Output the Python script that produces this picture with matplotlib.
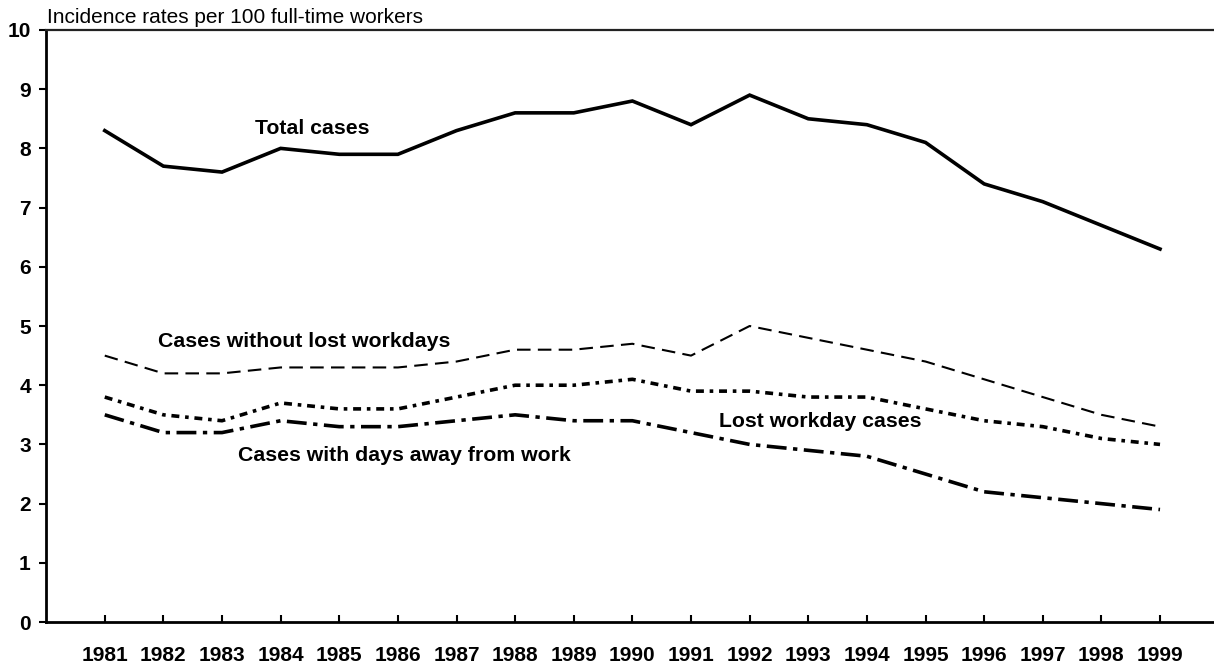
import matplotlib
matplotlib.use("Agg")
import matplotlib.pyplot as plt

years = list(range(1981, 2000))
total_cases = [8.3, 7.7, 7.6, 8.0, 7.9, 7.9, 8.3, 8.6, 8.6, 8.8, 8.4, 8.9, 8.5, 8.4, 8.1, 7.4, 7.1, 6.7, 6.3]
without_lost = [4.5, 4.2, 4.2, 4.3, 4.3, 4.3, 4.4, 4.6, 4.6, 4.7, 4.5, 5.0, 4.8, 4.6, 4.4, 4.1, 3.8, 3.5, 3.3]
lost_workday = [3.8, 3.5, 3.4, 3.7, 3.6, 3.6, 3.8, 4.0, 4.0, 4.1, 3.9, 3.9, 3.8, 3.8, 3.6, 3.4, 3.3, 3.1, 3.0]
days_away = [3.5, 3.2, 3.2, 3.4, 3.3, 3.3, 3.4, 3.5, 3.4, 3.4, 3.2, 3.0, 2.9, 2.8, 2.5, 2.2, 2.1, 2.0, 1.9]
y_ticks = list(range(0, 11))

plt.rcParams['font.family'] = ['Liberation Sans', 'DejaVu Sans']

fig = plt.figure(figsize=(12.14, 6.66), dpi=100)
ax = fig.add_axes([0.038, 0.066, 0.961, 0.889])

ax.plot(years, total_cases, color='black', lw=2.6, solid_joinstyle='miter')
l2, = ax.plot(years, without_lost, color='black', lw=1.5)
l2.set_dashes([6.5, 3.5])
l3, = ax.plot(years, lost_workday, color='black', lw=2.6)
l3.set_dashes([2.2, 1.6, 1.0, 1.6])
l4, = ax.plot(years, days_away, color='black', lw=2.6)
l4.set_dashes([5.5, 1.8, 1.2, 1.8])

ax.set_xlim(1980, 1999.9)
ax.set_ylim(0, 10)
ax.set_yticks(y_ticks)
ax.set_xticks(years)
ax.set_xticklabels([str(y) for y in years], fontsize=15, fontweight='bold')
ax.set_yticklabels([str(v) for v in y_ticks], fontsize=15, fontweight='bold')
ax.tick_params(axis='x', direction='in', length=5, width=1.5, pad=17)
ax.tick_params(axis='y', direction='out', length=5, width=1.5, pad=6)

for s in ['left', 'bottom']:
    ax.spines[s].set_linewidth(2)
ax.spines['right'].set_visible(False)
ax.spines['top'].set_linewidth(1.6)
ax.spines['top'].set_color('#222222')

ax.text(1980.02, 10.05, 'Incidence rates per 100 full-time workers', fontsize=15,
        ha='left', va='bottom')

ax.text(1983.57, 8.34, 'Total cases', fontsize=15.3, fontweight='bold', ha='left', va='center')
ax.text(1981.91, 4.73, 'Cases without lost workdays', fontsize=15.3, fontweight='bold', ha='left', va='center')
ax.text(1983.28, 2.82, 'Cases with days away from work', fontsize=15.3, fontweight='bold', ha='left', va='center')
ax.text(1991.47, 3.38, 'Lost workday cases', fontsize=15.3, fontweight='bold', ha='left', va='center')

fig.savefig('out.png', dpi=100)
